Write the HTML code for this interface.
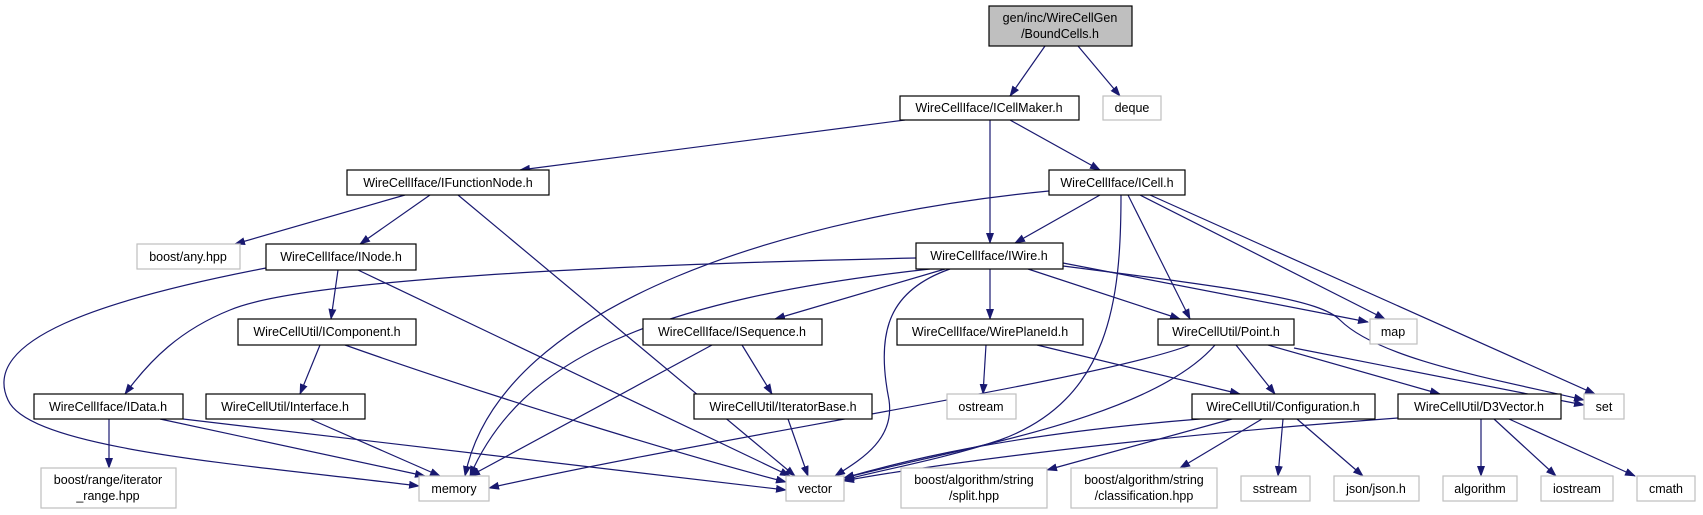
<!DOCTYPE html>
<html><head><meta charset="utf-8"><style>
html,body{margin:0;padding:0;background:#fff;}
svg{display:block;}
text{font-family:"Liberation Sans",sans-serif;font-size:12.5px;fill:#000;text-anchor:middle;}
.e{fill:none;stroke:#191970;stroke-width:1.2;marker-end:url(#a);}
.n{fill:#fff;stroke:#000;stroke-width:1.2;}
.g{fill:#fff;stroke:#bfbfbf;stroke-width:1.2;}
</style></head><body>
<svg width="1703" height="515" viewBox="0 0 1703 515" xmlns="http://www.w3.org/2000/svg">
<defs><marker id="a" markerWidth="11" markerHeight="8" refX="10" refY="4" orient="auto" markerUnits="userSpaceOnUse"><path d="M0,0 L11,4 L0,8 z" fill="#191970"/></marker></defs>
<g>
<path class="e" d="M1045,46 L1010,96"/>
<path class="e" d="M1078,46 L1120,96"/>
<path class="e" d="M905,120 L520,170"/>
<path class="e" d="M990,120 L990,243"/>
<path class="e" d="M1010,120 L1100,170"/>
<path class="e" d="M405,195 L235,244"/>
<path class="e" d="M430,195 L360,244"/>
<path class="e" d="M458,195 L795,476"/>
<path class="e" d="M1049,191 C800,215 500,300 465,476"/>
<path class="e" d="M1100,195 L1015,243"/>
<path class="e" d="M1121,195 C1121,300 1110,400 1000,440 C940,460 880,470 844,480"/>
<path class="e" d="M1128,195 L1190,319"/>
<path class="e" d="M1140,195 L1385,319"/>
<path class="e" d="M1150,195 L1595,394"/>
<path class="e" d="M266,268 C100,300 -20,340 8,400 C30,450 250,465 419,486"/>
<path class="e" d="M338,270 L331,319"/>
<path class="e" d="M358,270 L790,476"/>
<path class="e" d="M916,258 C600,265 300,280 230,310 C180,330 150,360 125,394"/>
<path class="e" d="M930,269 C650,300 520,360 470,476"/>
<path class="e" d="M945,269 L775,319"/>
<path class="e" d="M950,269 C890,290 875,330 889,400 C895,440 860,460 835,476"/>
<path class="e" d="M990,269 L990,319"/>
<path class="e" d="M1028,269 L1180,319"/>
<path class="e" d="M1063,263 L1368,322"/>
<path class="e" d="M1063,266 C1250,290 1320,300 1340,320 C1380,360 1500,380 1584,400"/>
<path class="e" d="M320,345 L300,394"/>
<path class="e" d="M345,345 C500,400 700,460 786,482"/>
<path class="e" d="M109,419 L109,468"/>
<path class="e" d="M160,419 L425,476"/>
<path class="e" d="M183,419 L786,490"/>
<path class="e" d="M310,419 L440,476"/>
<path class="e" d="M712,345 L470,476"/>
<path class="e" d="M742,345 L772,394"/>
<path class="e" d="M788,419 L808,476"/>
<path class="e" d="M986,345 L983,394"/>
<path class="e" d="M1037,345 L1240,394"/>
<path class="e" d="M1190,345 C1100,380 700,440 489,488"/>
<path class="e" d="M1215,345 C1150,420 950,450 844,478"/>
<path class="e" d="M1236,345 L1275,394"/>
<path class="e" d="M1268,345 L1440,394"/>
<path class="e" d="M1294,348 L1584,405"/>
<path class="e" d="M1200,419 C1000,435 900,462 844,478"/>
<path class="e" d="M1232,419 L1047,470"/>
<path class="e" d="M1262,419 L1180,468"/>
<path class="e" d="M1283,419 L1278,476"/>
<path class="e" d="M1297,419 L1363,476"/>
<path class="e" d="M1398,418 C1100,440 900,470 844,481"/>
<path class="e" d="M1481,419 L1481,476"/>
<path class="e" d="M1494,419 L1556,476"/>
<path class="e" d="M1509,419 L1635,476"/>
</g>
<g>
<rect x="989" y="6" width="143" height="40" fill="#bfbfbf" stroke="#000" stroke-width="1.2"/>
<text x="1060" y="22">gen/inc/WireCellGen</text><text x="1060" y="38">/BoundCells.h</text>
<rect class="n" x="900" y="96" width="179" height="24"/><text x="989" y="112">WireCellIface/ICellMaker.h</text>
<rect class="g" x="1103" y="96" width="58" height="24"/><text x="1132" y="112">deque</text>
<rect class="n" x="347" y="170" width="202" height="25"/><text x="448" y="187">WireCellIface/IFunctionNode.h</text>
<rect class="n" x="1049" y="170" width="136" height="25"/><text x="1117" y="187">WireCellIface/ICell.h</text>
<rect class="g" x="137" y="244" width="103" height="25"/><text x="188" y="261">boost/any.hpp</text>
<rect class="n" x="266" y="244" width="150" height="26"/><text x="341" y="261">WireCellIface/INode.h</text>
<rect class="n" x="916" y="243" width="147" height="26"/><text x="989" y="260">WireCellIface/IWire.h</text>
<rect class="n" x="238" y="319" width="178" height="26"/><text x="327" y="336">WireCellUtil/IComponent.h</text>
<rect class="n" x="643" y="319" width="179" height="26"/><text x="732" y="336">WireCellIface/ISequence.h</text>
<rect class="n" x="897" y="319" width="186" height="26"/><text x="990" y="336">WireCellIface/WirePlaneId.h</text>
<rect class="n" x="1158" y="319" width="136" height="26"/><text x="1226" y="336">WireCellUtil/Point.h</text>
<rect class="g" x="1370" y="319" width="47" height="25"/><text x="1393" y="336">map</text>
<rect class="n" x="34" y="394" width="149" height="25"/><text x="108" y="411">WireCellIface/IData.h</text>
<rect class="n" x="206" y="394" width="159" height="25"/><text x="285" y="411">WireCellUtil/Interface.h</text>
<rect class="n" x="694" y="394" width="178" height="25"/><text x="783" y="411">WireCellUtil/IteratorBase.h</text>
<rect class="g" x="947" y="394" width="69" height="25"/><text x="981" y="411">ostream</text>
<rect class="n" x="1192" y="394" width="183" height="25"/><text x="1283" y="411">WireCellUtil/Configuration.h</text>
<rect class="n" x="1398" y="394" width="163" height="25"/><text x="1479" y="411">WireCellUtil/D3Vector.h</text>
<rect class="g" x="1584" y="394" width="40" height="25"/><text x="1604" y="411">set</text>
<rect class="g" x="41" y="468" width="135" height="40"/><text x="108" y="484">boost/range/iterator</text><text x="108" y="500">_range.hpp</text>
<rect class="g" x="419" y="476" width="70" height="25"/><text x="454" y="493">memory</text>
<rect class="g" x="786" y="476" width="58" height="25"/><text x="815" y="493">vector</text>
<rect class="g" x="901" y="468" width="146" height="40"/><text x="974" y="484">boost/algorithm/string</text><text x="974" y="500">/split.hpp</text>
<rect class="g" x="1071" y="468" width="146" height="40"/><text x="1144" y="484">boost/algorithm/string</text><text x="1144" y="500">/classification.hpp</text>
<rect class="g" x="1241" y="476" width="69" height="25"/><text x="1275" y="493">sstream</text>
<rect class="g" x="1334" y="476" width="85" height="25"/><text x="1376" y="493">json/json.h</text>
<rect class="g" x="1443" y="476" width="74" height="25"/><text x="1480" y="493">algorithm</text>
<rect class="g" x="1541" y="476" width="72" height="25"/><text x="1577" y="493">iostream</text>
<rect class="g" x="1637" y="476" width="58" height="25"/><text x="1666" y="493">cmath</text>
</g>
</svg>
</body></html>
